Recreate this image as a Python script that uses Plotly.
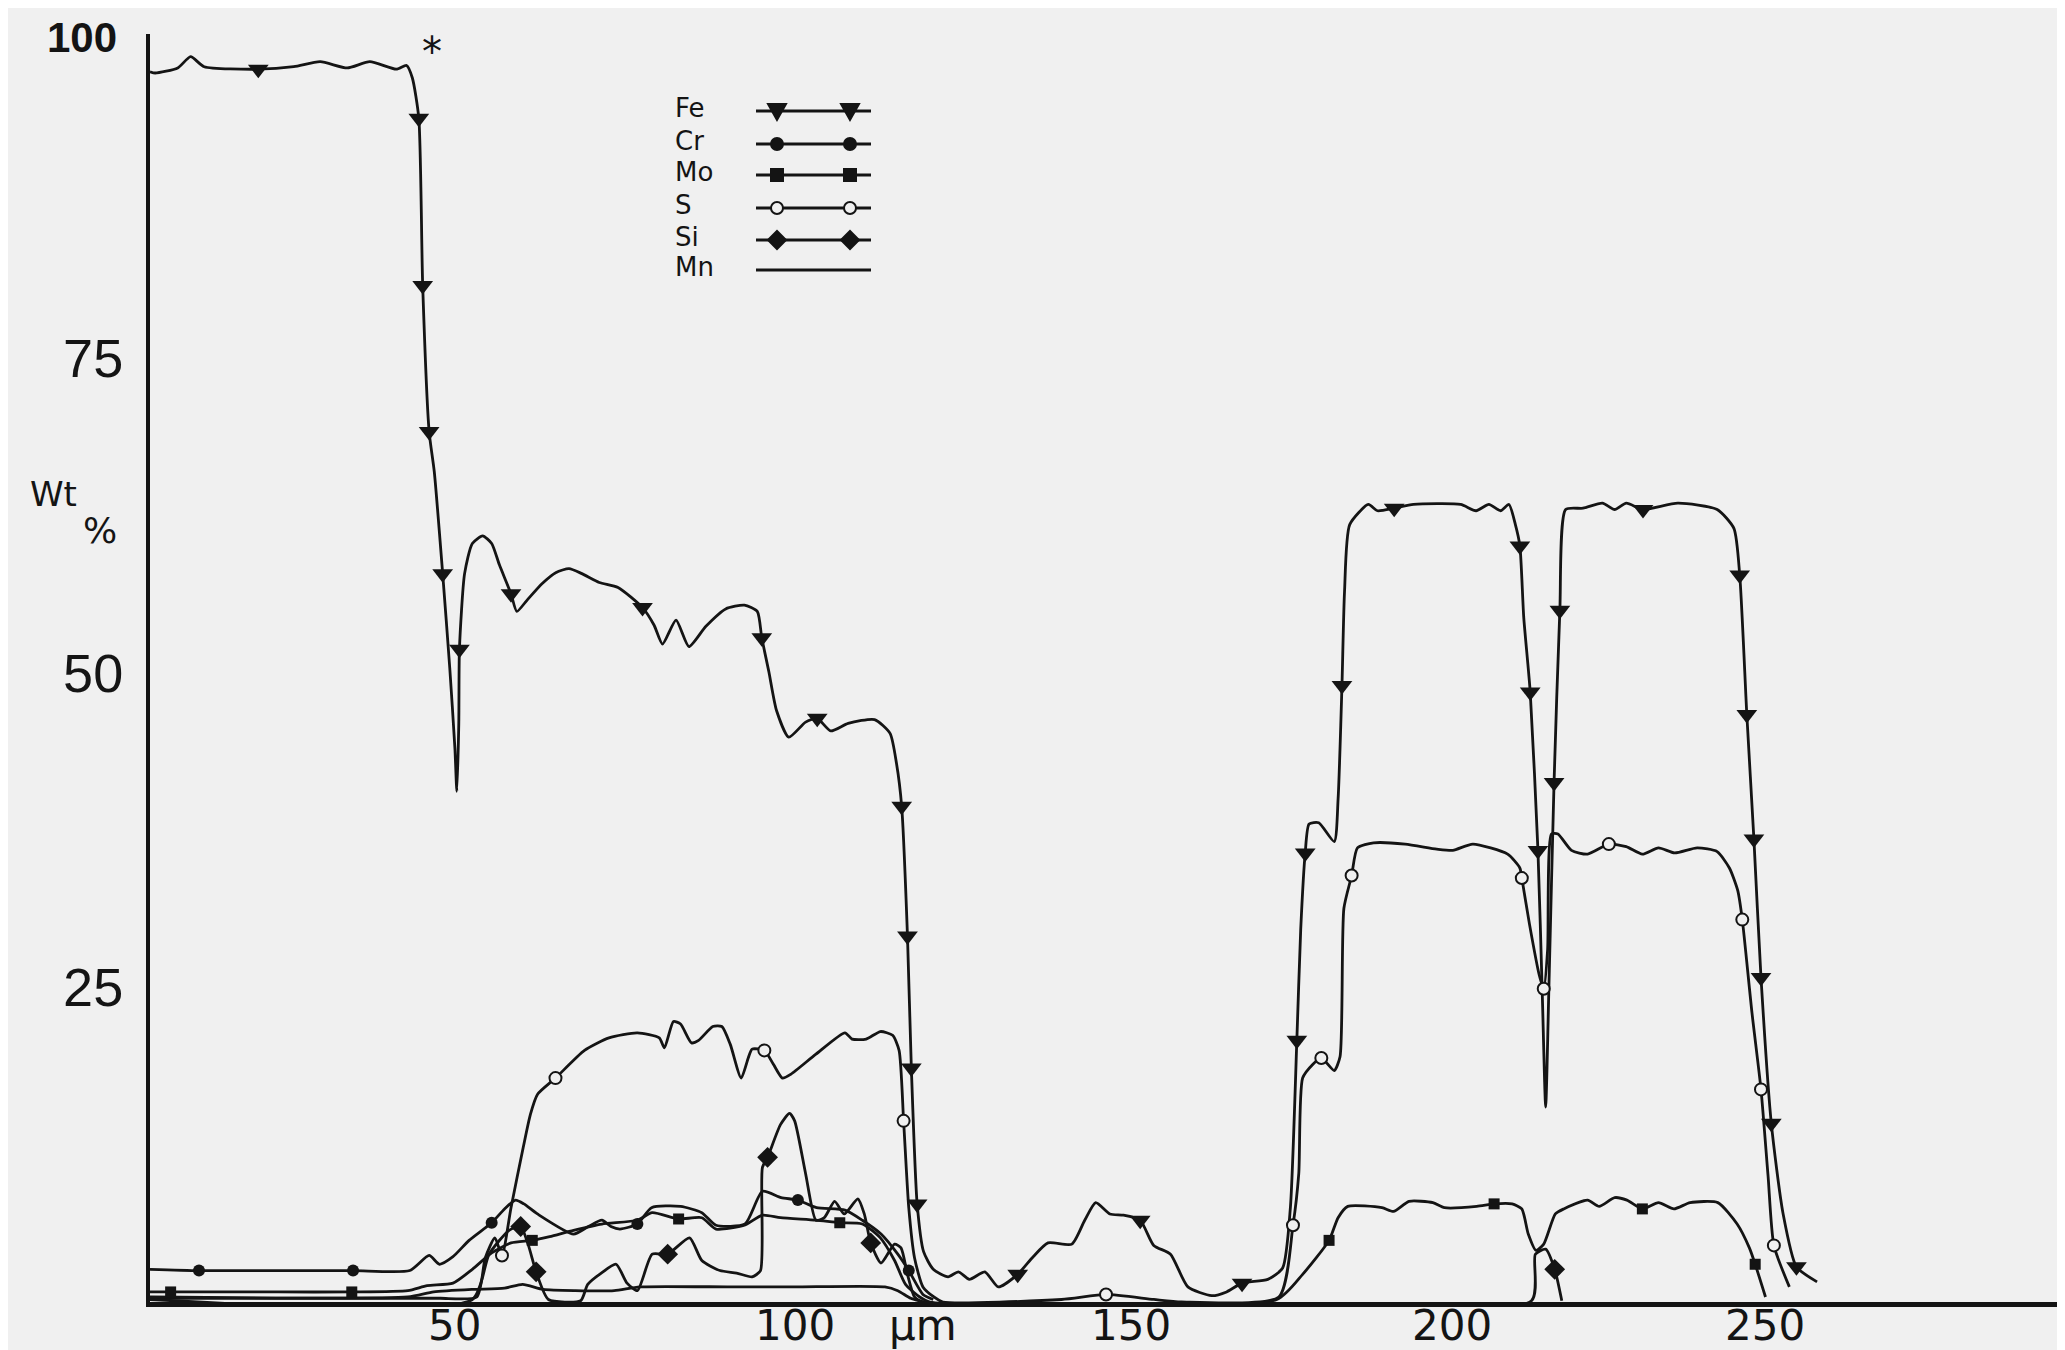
import plotly.graph_objects as go

# ---------------- data ----------------
X_TICKS = [50, 100, 150, 200, 250]
X_TICK_TEXT = ["50", "100", "150", "200", "250"]
Y_TICKS = [25, 50, 75]
Y_TICK_TEXT = ["25", "50", "75"]

FE_X = [0.0, 0.8, 4.3, 6.3, 8.4, 16.8, 22.3, 26.4, 30.6, 34.1,
        38.2, 39.8, 40.7, 41.7, 42.3, 43.3, 44.1, 45.4, 46.5, 47.3,
        47.6, 47.9, 48.0, 48.8, 50.0, 51.6, 53.0, 54.2, 56.0, 56.9,
        58.5, 60.8, 63.0, 65.0, 67.0, 69.7, 72.6, 76.4, 78.2, 79.5,
        81.6, 83.6, 86.2, 89.3, 92.2, 94.2, 94.9, 96.0, 97.2, 99.1,
        101.7, 103.5, 105.6, 108.3, 112.4, 114.8, 115.8, 116.6, 117.5, 118.1,
        119.0, 120.0, 121.5, 123.8, 125.4, 127.1, 129.5, 131.6, 134.6, 137.0,
        139.3, 143.0, 145.0, 146.7, 148.9, 151.0, 153.6, 155.7, 158.3, 161.0,
        164.7, 167.0, 169.4, 173.4, 175.7, 176.9, 177.9, 178.5, 179.2, 179.8,
        181.3, 183.7, 184.3, 184.9, 185.3, 186.1, 189.0, 190.4, 193.0, 196.0,
        203.3, 205.7, 207.7, 209.5, 210.8, 211.8, 212.5, 213.1, 214.1, 215.3,
        216.0, 216.5, 217.0, 217.8, 218.7, 219.6, 222.3, 225.3, 227.2, 229.0,
        231.6, 237.0, 243.1, 245.7, 246.6, 247.7, 248.8, 249.9, 251.5, 253.3,
        255.4, 258.6]
FE_Y = [97.8, 97.7, 98.1, 99.0, 98.2, 98.0, 98.2, 98.6, 98.1, 98.6,
        98.0, 98.3, 97.3, 94.1, 80.8, 69.2, 66.0, 57.9, 50.4, 44.0,
        40.6, 46.0, 51.9, 57.9, 60.3, 60.9, 60.3, 58.6, 56.3, 54.9,
        55.8, 57.1, 58.0, 58.3, 57.9, 57.2, 56.8, 55.2, 53.8, 52.3,
        54.2, 52.1, 53.7, 55.1, 55.4, 54.9, 52.8, 50.1, 47.0, 44.9,
        46.1, 46.4, 45.4, 46.0, 46.3, 45.2, 42.8, 39.4, 29.1, 18.6,
        7.8, 4.0, 2.6, 2.0, 2.4, 1.8, 2.4, 1.2, 2.2, 3.6,
        4.7, 4.6, 6.5, 7.9, 7.0, 6.9, 6.5, 4.5, 3.8, 1.2,
        0.5, 0.8, 1.5, 1.8, 2.7, 7.5, 20.8, 29.6, 35.7, 38.0,
        38.1, 36.6, 40.0, 49.0, 56.5, 61.8, 63.4, 62.9, 63.1, 63.4,
        63.4, 62.9, 63.4, 62.9, 63.4, 61.8, 60.1, 54.4, 48.5, 35.9,
        24.0, 15.5, 25.0, 41.3, 55.0, 63.0, 63.1, 63.5, 63.0, 63.5,
        63.0, 63.5, 63.0, 61.5, 57.8, 46.7, 36.8, 25.8, 14.2, 7.1,
        2.8, 1.6]
FE_MARK_AT = [16.8, 41.7, 42.3, 43.3, 45.4, 48.0, 56.0, 76.4, 94.9, 103.5,
              116.6, 117.5, 118.1, 119.0, 134.6, 153.6, 169.4, 177.9, 179.2,
              184.9, 193.0, 212.5, 214.1, 215.3, 217.8, 218.7, 231.6, 246.6,
              247.7, 248.8, 249.9, 251.5, 255.4]

CR_X = [0.0, 7.6, 20.0, 31.5, 40.3, 43.3, 44.9, 47.0, 49.5, 53.0,
        55.0, 56.7, 58.0, 60.1, 65.7, 68.0, 70.1, 71.5, 72.9, 75.6,
        77.8, 82.3, 85.6, 87.8, 92.3, 95.0, 97.9, 100.5, 103.4, 107.8,
        110.5, 113.4, 116.0, 117.7, 119.9, 121.5]
CR_Y = [2.6, 2.5, 2.5, 2.5, 2.5, 3.7, 3.0, 3.6, 4.9, 6.3,
        7.4, 8.1, 7.8, 7.0, 5.4, 6.0, 6.5, 6.0, 5.8, 6.2,
        7.5, 7.6, 7.1, 6.1, 6.2, 8.8, 8.3, 8.1, 7.5, 7.3,
        6.5, 5.4, 3.8, 2.5, 0.6, 0.2]
CR_MARK_AT = [7.6, 31.5, 53.0, 75.6, 100.5, 117.7]

MO_X = [0.0, 3.2, 20.0, 31.3, 40.0, 43.0, 47.0, 50.0, 53.0, 56.0,
        59.3, 62.0, 65.7, 70.1, 75.6, 77.9, 82.0, 85.6, 87.8, 92.2,
        95.0, 97.8, 103.3, 107.0, 110.5, 113.3, 115.5, 117.2, 119.4, 121.0,
        174.8, 178.8, 182.9, 184.3, 185.8, 191.1, 192.9, 195.3, 199.0, 200.8,
        205.8, 208.5, 211.3, 212.8, 213.8, 215.0, 216.2, 218.0, 219.3, 223.0,
        224.8, 227.2, 229.1, 231.5, 234.0, 236.4, 238.9, 243.2, 246.2, 248.1,
        249.0, 250.6]
MO_Y = [0.8, 0.8, 0.8, 0.8, 0.9, 1.3, 1.5, 2.6, 3.9, 4.7,
        4.9, 5.2, 5.7, 6.2, 6.5, 7.1, 6.6, 6.7, 5.8, 6.1,
        6.9, 6.7, 6.5, 6.3, 6.2, 5.1, 3.3, 1.4, 0.4, 0.0,
        0.2, 2.2, 4.9, 6.7, 7.6, 7.5, 7.2, 8.0, 7.9, 7.5,
        7.6, 7.8, 7.8, 7.4, 5.4, 4.1, 4.6, 7.0, 7.4, 8.1,
        7.6, 8.3, 8.1, 7.4, 7.9, 7.4, 7.9, 7.9, 6.2, 4.3,
        3.0, 0.4]
MO_MARK_AT = [3.2, 31.3, 59.3, 82.0, 107.0, 182.9, 208.5, 231.5, 249.0]

S_X = [0.0, 40.0, 45.0, 50.7, 52.0, 53.5, 54.6, 56.0, 57.9, 59.0,
       60.1, 62.9, 67.4, 71.2, 75.6, 79.0, 79.8, 81.2, 82.3, 84.0,
       85.1, 87.3, 88.7, 90.0, 91.7, 92.8, 93.4, 95.3, 96.7, 98.1,
       99.4, 103.3, 107.8, 108.9, 111.1, 113.3, 115.2, 116.2, 116.9, 117.7,
       118.6, 119.9, 121.6, 123.0, 141.4, 148.3, 155.7, 160.0, 175.1, 177.3,
       178.2, 178.8, 180.4, 181.7, 183.7, 184.6, 185.2, 186.4, 187.3, 189.8,
       194.7, 199.6, 202.1, 205.2, 210.6, 212.5, 212.8, 214.0, 215.5, 216.2,
       216.8, 217.4, 218.4, 220.5, 223.0, 226.3, 229.0, 231.5, 234.0, 236.5,
       240.0, 243.1, 245.0, 246.3, 247.0, 248.5, 249.9, 251.0, 251.9, 254.3]
S_Y = [0.3, 0.3, 0.3, 0.4, 3.5, 5.1, 3.7, 7.5, 12.3, 14.9,
       16.5, 17.8, 20.0, 21.0, 21.4, 21.0, 20.2, 22.3, 22.1, 20.6,
       20.8, 21.9, 21.9, 20.5, 17.8, 19.4, 20.1, 20.0, 18.9, 17.8,
       18.1, 19.7, 21.4, 20.9, 20.9, 21.5, 21.2, 20.0, 14.4, 7.5,
       3.5, 1.2, 0.4, 0.0, 0.2, 0.6, 0.2, 0.0, 0.4, 6.1,
       10.2, 17.8, 18.9, 19.4, 18.4, 19.5, 31.3, 33.9, 36.1, 36.5,
       36.4, 36.0, 35.9, 36.4, 35.6, 34.5, 33.7, 30.0, 26.0, 24.9,
       28.0, 37.2, 37.2, 35.9, 35.6, 36.4, 36.2, 35.6, 36.1, 35.7,
       36.1, 35.8, 34.5, 32.7, 30.4, 23.0, 16.9, 10.0, 4.5, 1.2]
S_MARK_AT = [54.6, 62.9, 95.3, 116.9, 148.3, 177.3, 181.7, 186.4, 212.8,
             216.2, 226.3, 247.0, 249.9, 251.9]

SI_X = [0.0, 50.0, 52.6, 55.7, 57.5, 58.7, 59.9, 61.8, 66.8, 67.9,
        70.0, 72.3, 74.0, 75.6, 77.9, 80.3, 83.7, 85.6, 88.4, 91.0,
        93.4, 94.7, 95.0, 95.8, 97.8, 99.2, 100.0, 101.7, 103.3, 104.6,
        106.2, 107.7, 109.8, 110.8, 111.8, 113.4, 115.5, 116.5, 117.5, 118.6,
        120.0, 214.3, 214.9, 216.5, 217.9, 219.0]
SI_Y = [0.2, 0.2, 3.8, 5.7, 6.0, 4.5, 2.4, 0.2, 0.1, 1.4,
        2.3, 3.0, 1.5, 0.9, 3.8, 3.8, 5.1, 3.3, 2.5, 2.3,
        2.0, 2.5, 10.7, 11.5, 14.1, 15.0, 14.4, 10.2, 6.5, 6.7,
        8.0, 7.0, 8.2, 7.0, 4.7, 3.1, 4.6, 4.3, 2.2, 0.4,
        0.0, 0.1, 3.8, 4.2, 2.6, 0.1]
SI_MARK_AT = [57.5, 59.9, 80.3, 95.8, 111.8, 217.9]

MN_X = [0.0, 40.0, 44.0, 50.0, 55.0, 57.8, 61.0, 66.0, 72.0, 76.0,
        90.0, 100.0, 114.0, 116.0, 118.0, 120.0]
MN_Y = [0.4, 0.4, 0.8, 1.0, 1.1, 1.4, 1.0, 0.9, 0.9, 1.2,
        1.2, 1.2, 1.2, 0.9, 0.3, 0.0]
MN_MARK_AT = []

LEGEND_NAMES = ["Fe", "Cr", "Mo", "S", "Si", "Mn"]

# ---------------- styling ----------------
INK = "#141414"
PAPER = "#f0f0f0"
W, H = 2065, 1350
L, R, T, B = 142, 0, 26, 56
X_MAX = 298.3
Y_MAX = 100.8
X_LABEL_SHIFT = [-18, 0, 14, 13, 3]   # hand-lettered labels sit slightly off the ticks

series = [
    ("Fe", FE_X, FE_Y, FE_MARK_AT, dict(symbol="triangle-down", size=18, color=INK)),
    ("Cr", CR_X, CR_Y, CR_MARK_AT, dict(symbol="circle", size=12, color=INK)),
    ("Mo", MO_X, MO_Y, MO_MARK_AT, dict(symbol="square", size=11, color=INK)),
    ("S", S_X, S_Y, S_MARK_AT, dict(symbol="circle", size=12, color=PAPER,
                                    line=dict(color=INK, width=2))),
    ("Si", SI_X, SI_Y, SI_MARK_AT, dict(symbol="diamond", size=16, color=INK)),
    ("Mn", MN_X, MN_Y, MN_MARK_AT, dict(symbol="circle", size=1, color=INK)),
]

fig = go.Figure()
for name, xs, ys, marks, mk in series:
    fig.add_trace(go.Scatter(
        x=xs, y=ys, mode="lines", name=name, showlegend=False,
        line=dict(color=INK, width=2.8, shape="spline", smoothing=0.6),
        hoverinfo="skip"))
for name, xs, ys, marks, mk in series:
    sel = [i for i, v in enumerate(xs) if v in marks]
    if not sel:
        continue
    fig.add_trace(go.Scatter(
        x=[xs[i] for i in sel], y=[ys[i] for i in sel], mode="markers",
        name=name, showlegend=False, marker=mk))


def px_x(p):
    return (p - L) / (W - L - R)


def px_y(p):
    return ((H - B) - p) / (H - B - T)


annotations = []
shapes = []

# x tick labels (hand-lettered, sitting right at the bottom edge)
for v, txt, sh in zip(X_TICKS, X_TICK_TEXT, X_LABEL_SHIFT):
    annotations.append(dict(
        x=v, y=px_y(H - 7), xref="x", yref="paper", text=txt, xshift=sh,
        showarrow=False, xanchor="center", yanchor="bottom", borderpad=0,
        font=dict(family="DejaVu Sans", size=42, color=INK)))

# hand-drawn legend: name, then a line with two markers
row_y = [100, 133, 164, 197, 229, 259]
line_x0, line_x1 = 748, 863
mark_xs = [769, 842]
for name, yy, (nm, xs, ys, marks, mk) in zip(LEGEND_NAMES, row_y, series):
    annotations.append(dict(
        x=px_x(666), y=px_y(yy), xref="paper", yref="paper", text=name,
        showarrow=False, xanchor="left", yanchor="middle", borderpad=0,
        font=dict(family="DejaVu Sans", size=26, color=INK)))
    shapes.append(dict(type="line", xref="paper", yref="paper",
                       x0=px_x(line_x0), x1=px_x(line_x1),
                       y0=px_y(yy + 3), y1=px_y(yy + 3),
                       line=dict(color=INK, width=2.8)))
    for mx in mark_xs:
        base = dict(xref="paper", yref="paper", xsizemode="pixel",
                    ysizemode="pixel", xanchor=px_x(mx), yanchor=px_y(yy + 3),
                    line=dict(color=INK, width=2), fillcolor=INK)
        if name == "Fe":
            shapes.append(dict(base, type="path", path="M -9,7 L 9,7 L 0,-9 Z"))
        elif name == "Cr":
            shapes.append(dict(base, type="circle", x0=-6, x1=6, y0=-6, y1=6))
        elif name == "Mo":
            shapes.append(dict(base, type="rect", x0=-6, x1=6, y0=-6, y1=6))
        elif name == "S":
            shapes.append(dict(base, type="circle", x0=-6, x1=6, y0=-6,
                               y1=6, fillcolor=PAPER))
        elif name == "Si":
            shapes.append(dict(base, type="path", path="M -9,0 L 0,9 L 9,0 L 0,-9 Z"))

# other free text
annotations += [
    dict(x=px_x(74), y=px_y(30), xref="paper", yref="paper", text="<b>100</b>",
         showarrow=False, xanchor="center", yanchor="middle", borderpad=0,
         font=dict(family="Liberation Sans Narrow, Liberation Sans", size=42, color=INK)),
    dict(x=px_x(424), y=px_y(44), xref="paper", yref="paper", text="*",
         showarrow=False, xanchor="center", yanchor="middle", borderpad=0,
         font=dict(family="DejaVu Sans", size=40, color=INK)),
    dict(x=px_x(45), y=px_y(486), xref="paper", yref="paper", text="Wt",
         showarrow=False, xanchor="center", yanchor="middle", borderpad=0,
         font=dict(family="DejaVu Sans", size=34, color=INK)),
    dict(x=px_x(92), y=px_y(522), xref="paper", yref="paper", text="%",
         showarrow=False, xanchor="center", yanchor="middle", borderpad=0,
         font=dict(family="DejaVu Sans", size=36, color=INK)),
    dict(x=px_x(915), y=px_y(H - 7), xref="paper", yref="paper",
         text="µm", showarrow=False, xanchor="center", yanchor="bottom", borderpad=0,
         font=dict(family="DejaVu Sans", size=42, color=INK)),
]

fig.update_layout(
    width=W, height=H,
    margin=dict(l=L, r=R, t=T, b=B, pad=0, autoexpand=False),
    paper_bgcolor=PAPER, plot_bgcolor=PAPER,
    showlegend=False,
    annotations=annotations, shapes=shapes,
    xaxis=dict(range=[0, X_MAX], showline=True, linecolor=INK, linewidth=5,
               showgrid=False, zeroline=False, ticks="", showticklabels=False,
               automargin=False),
    yaxis=dict(range=[0, Y_MAX], showline=True, linecolor=INK, linewidth=4,
               showgrid=False, zeroline=False, ticks="", automargin=False,
               tickvals=Y_TICKS, ticktext=Y_TICK_TEXT, ticklabelstandoff=12,
               tickfont=dict(family="Liberation Sans", size=54, color=INK)),
)

fig.write_html("out.html")
